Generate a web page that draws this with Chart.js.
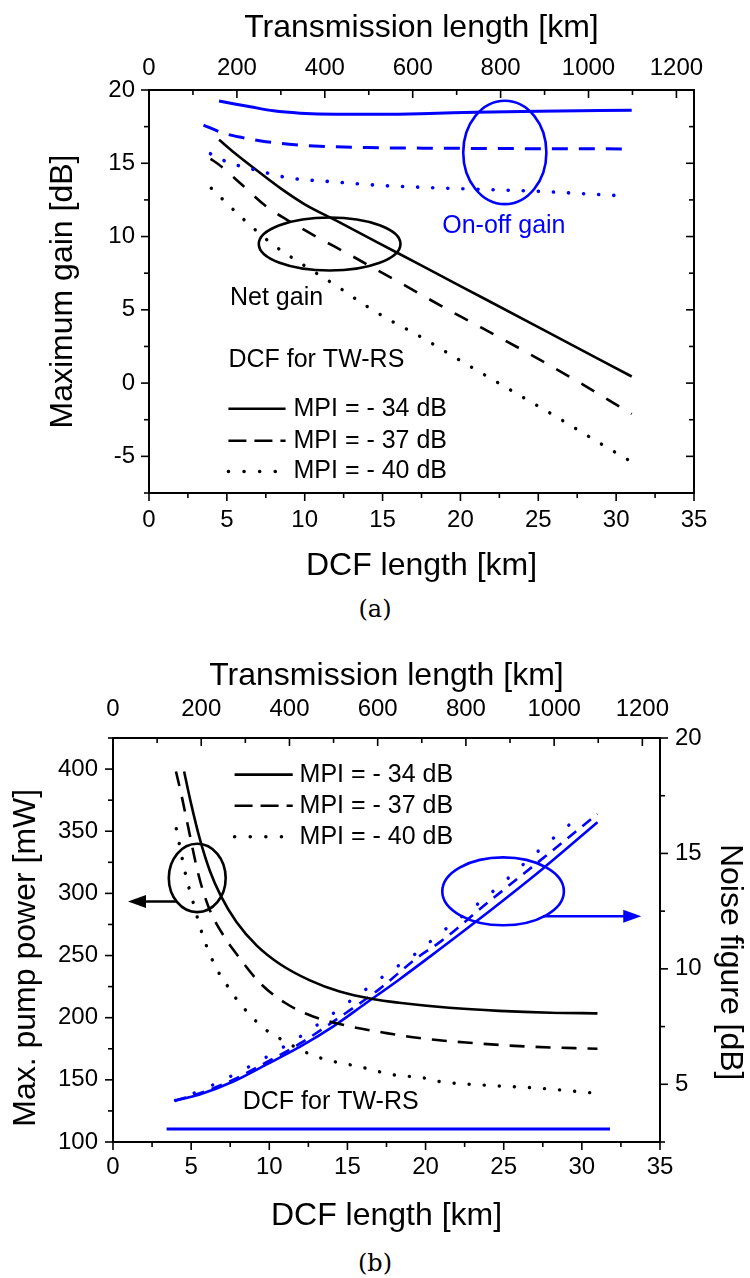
<!DOCTYPE html>
<html>
<head>
<meta charset="utf-8">
<script src="https://cdn.jsdelivr.net/npm/chart.js@4.4.0/dist/chart.umd.min.js"></script>
<style>
  body { margin: 0; background: #fff; width: 750px; height: 1278px; position: relative; overflow: hidden; }
  canvas { position: absolute; left: 0; }
  #cA { top: 0; }
  #cB { top: 640px; }
  .cap { position: absolute; left: 0; width: 750px; text-align: center; font-family: 'DejaVu Serif', 'Liberation Serif', serif; font-size: 24px; line-height: 26px; }
</style>
</head>
<body>
<canvas id="cA" width="750" height="590"></canvas>
<div class="cap" style="top:596px">(a)</div>
<canvas id="cB" width="750" height="600"></canvas>
<div class="cap" style="top:1250px">(b)</div>
<script>
// ---- axis tick labels ----
const dcfMajor = [0, 5, 10, 15, 20, 25, 30, 35];
const transMajor = [0, 200, 400, 600, 800, 1000, 1200];
const gainMajor = [-5, 0, 5, 10, 15, 20];
const pumpMajor = [100, 150, 200, 250, 300, 350, 400];
const nfMajor = [5, 10, 15, 20];

// ---- (a) maximum gain vs DCF length ----
const onOff34X = [4.5, 5.5, 6.5, 8, 9.7, 12, 15, 18, 21, 25, 31];
const onOff34Y = [19.25, 19.05, 18.86, 18.58, 18.42, 18.35, 18.35, 18.4, 18.48, 18.55, 18.62];
const onOff37X = [3.5, 4.8, 6, 7.2, 9, 10.6, 14, 18, 24, 31];
const onOff37Y = [17.6, 17.05, 16.75, 16.52, 16.3, 16.18, 16.07, 16.03, 16.0, 15.98];
const onOff40X = [3.95, 5, 7, 8.9, 11.9, 15, 18, 20.4, 24.7, 30];
const onOff40Y = [15.65, 15.1, 14.5, 14.02, 13.73, 13.48, 13.34, 13.25, 13.1, 12.8];
const net34X = [4.5, 5.5, 7, 8.5, 10, 12, 16, 20, 25, 31];
const net34Y = [16.6, 15.7, 14.45, 13.25, 12.2, 11.1, 8.86, 6.62, 3.82, 0.45];
const net37X = [3.95, 4.5, 5.9, 7.6, 9.3, 11, 12.7, 14.5, 16, 17.7, 20, 22.8, 25, 27.7, 31];
const net37Y = [15.3, 14.9, 13.6, 12.0, 10.87, 9.84, 8.87, 7.8, 6.92, 5.9, 4.55, 2.95, 1.65, 0.0, -2.1];
const net40X = [4, 6, 7.9, 9.9, 12.1, 14, 16, 17, 20, 23, 26, 29, 31];
const net40Y = [13.3, 11.25, 9.5, 8.07, 6.59, 5.23, 3.98, 3.43, 1.53, -0.34, -2.2, -4.13, -5.38];

// ---- (b) pump power and noise figure vs DCF length ----
const pump34X = [4.55, 5, 5.55, 6.2, 6.9, 7.9, 9.2, 10.7, 12.6, 14.5, 16.6, 18.3, 21.5, 24.7, 28, 31];
const pump34Y = [398, 372, 344, 318, 298, 277, 258, 243, 230, 221, 215, 212, 208, 205.5, 204, 203.5];
const pump37X = [4.03, 4.4, 4.8, 5.45, 6.1, 7.05, 8.1, 9.4, 11, 12.8, 14.7, 17.5, 19.6, 22.6, 26.5, 31];
const pump37Y = [398, 378, 354, 316, 289.5, 266.5, 248, 228, 212, 201, 194.3, 187.6, 183.6, 180, 176.8, 175];
const pump40X = [4.05, 4.65, 5.2, 5.8, 6.6, 7.2, 7.9, 8.75, 9.7, 10.8, 12.7, 14.1, 15.7, 17.9, 19.9, 20.7, 23.8, 26.9, 30.7];
const pump40Y = [352, 315, 289.5, 264, 240, 228, 215, 202.4, 191, 182.3, 170.2, 164.8, 160.8, 154.1, 151.5, 149, 145.7, 143.6, 139.5];
const nf34X = [4, 5.5, 7.7, 9.8, 12, 14.1, 16.2, 18.3, 20.3, 23.25, 27.5, 31];
const nf34Y = [4.3, 4.55, 5.12, 5.85, 6.64, 7.51, 8.52, 9.53, 10.54, 12.06, 14.34, 16.35];
const nf37X = [4, 5.5, 7.7, 9.8, 12, 14.9, 17, 19.4, 21, 24, 27.8, 31];
const nf37Y = [4.3, 4.6, 5.2, 5.95, 6.78, 8.09, 9.1, 10.45, 11.2, 12.88, 14.95, 16.71];
const nf40X = [4, 6.1, 9.05, 12.05, 15, 17.9, 19.1, 21.05, 23.1, 25.1, 27, 29, 30.05];
const nf40Y = [4.3, 4.88, 5.89, 7.1, 8.52, 9.97, 10.52, 11.6, 12.68, 13.82, 14.98, 16.13, 16.71];
const limitX = [3.43, 31.8];
const limitY = [3.06, 3.06];

const BLUE = '#0000ff';
const FONT = "'Liberation Sans', Arial, Helvetica, sans-serif";
const DASH_A = [15, 14], DASH_AB = [16, 11], DASH_B = [15, 11], DASH_NF = [11, 8];
const DOT = [0.1, 15], DOT_NF = [0.1, 20], DASH_LEG = [18, 8];

function pts(xs, ys) { return xs.map((x, i) => ({ x: x, y: ys[i] })); }

function line(xs, ys, color, width, dash, yAxis) {
  return {
    data: pts(xs, ys), borderColor: color, borderWidth: width, borderDash: dash,
    borderCapStyle: dash.length && dash[0] < 1 ? 'round' : 'butt', borderJoinStyle: 'round',
    pointRadius: 0, fill: false, cubicInterpolationMode: 'monotone',
    xAxisID: 'x', yAxisID: yAxis || 'y'
  };
}

function axis(o) {
  const step = (o.majors[1] - o.majors[0]) / 2;
  return {
    type: 'linear', axis: o.axis, position: o.pos, min: o.min, max: o.max,
    afterBuildTicks: s => {
      const t = [];
      for (let v = Math.ceil(o.min / step - 1e-9) * step; v <= o.max + 1e-9; v += step) {
        t.push({ value: Math.round(v * 1000) / 1000 });
      }
      s.ticks = t;
    },
    afterFit: s => {
      if (o.pos === 'left' || o.pos === 'right') s.width = o.size; else s.height = o.size;
    },
    ticks: {
      display: o.labels !== false, padding: o.pad || 0, color: '#000', autoSkip: false,
      maxRotation: 0, minRotation: 0,
      font: { family: FONT, size: 24, lineHeight: 1 },
      callback: v => o.majors.includes(v) ? String(v) : ''
    },
    grid: { display: false, drawTicks: false },
    border: { display: true, color: '#000', width: 2 },
    title: o.title ? {
      display: true, text: o.title, color: '#000',
      font: { family: FONT, size: 32, lineHeight: 1 }, padding: o.tpad
    } : { display: false }
  };
}

// tick marks (major/minor, inward or outward) drawn from the scales' own ticks
function tickPlugin(dirs) {
  return {
    id: 'tickMarks',
    afterDraw(chart) {
      const ctx = chart.ctx, a = chart.chartArea;
      ctx.save();
      ctx.strokeStyle = '#000';
      ctx.lineWidth = 1.6;
      Object.keys(dirs).forEach(id => {
        const s = chart.scales[id];
        const sign = dirs[id] === 'in' ? -1 : 1;
        s.ticks.forEach(t => {
          const len = (t.label !== '' ? 8 : 5) * sign;
          const p = s.getPixelForValue(t.value);
          ctx.beginPath();
          if (s.position === 'left') { ctx.moveTo(a.left, p); ctx.lineTo(a.left - len, p); }
          else if (s.position === 'right') { ctx.moveTo(a.right, p); ctx.lineTo(a.right + len, p); }
          else if (s.position === 'top') { ctx.moveTo(p, a.top); ctx.lineTo(p, a.top - len); }
          else { ctx.moveTo(p, a.bottom); ctx.lineTo(p, a.bottom + len); }
          ctx.stroke();
        });
      });
      ctx.restore();
    }
  };
}

// ellipses, arrows, labels and the line-style key, placed in data coordinates
function notesPlugin(spec) {
  return {
    id: 'notes',
    afterDraw(chart) {
      const ctx = chart.ctx, xs = chart.scales.x;
      ctx.save();
      ctx.setLineDash([]);
      (spec.ellipses || []).forEach(e => {
        const ys = chart.scales[e.axis];
        const cx = xs.getPixelForValue(e.x), cy = ys.getPixelForValue(e.y);
        const rx = Math.abs(xs.getPixelForValue(e.x + e.rx) - cx);
        const ry = Math.abs(ys.getPixelForValue(e.y + e.ry) - cy);
        ctx.beginPath();
        ctx.ellipse(cx, cy, rx, ry, 0, 0, Math.PI * 2);
        ctx.strokeStyle = e.color; ctx.lineWidth = 2.6;
        ctx.stroke();
      });
      (spec.arrows || []).forEach(r => {
        const ys = chart.scales[r.axis];
        const x1 = xs.getPixelForValue(r.x1), x2 = xs.getPixelForValue(r.x2), y = ys.getPixelForValue(r.y);
        const d = Math.sign(x2 - x1);
        ctx.strokeStyle = r.color; ctx.fillStyle = r.color; ctx.lineWidth = 2.6;
        ctx.beginPath(); ctx.moveTo(x1, y); ctx.lineTo(x2 - d * 14, y); ctx.stroke();
        ctx.beginPath(); ctx.moveTo(x2, y); ctx.lineTo(x2 - d * 18, y - 6.5); ctx.lineTo(x2 - d * 18, y + 6.5);
        ctx.closePath(); ctx.fill();
      });
      ctx.font = '25px ' + FONT;
      ctx.textBaseline = 'middle';
      (spec.texts || []).forEach(t => {
        const ys = chart.scales[t.axis];
        ctx.fillStyle = t.color; ctx.textAlign = t.align;
        ctx.fillText(t.text, xs.getPixelForValue(t.x), ys.getPixelForValue(t.y));
      });
      const k = spec.key;
      if (k) {
        const ys = chart.scales[k.axis];
        k.rows.forEach(r => {
          const y = ys.getPixelForValue(r.y);
          ctx.strokeStyle = '#000'; ctx.lineWidth = r.dot ? 3.5 : 2.6;
          ctx.lineCap = r.dot ? 'round' : 'butt';
          ctx.setLineDash(r.dash);
          ctx.beginPath(); ctx.moveTo(xs.getPixelForValue(k.x1), y); ctx.lineTo(xs.getPixelForValue(k.x2), y); ctx.stroke();
          ctx.setLineDash([]);
          ctx.fillStyle = '#000'; ctx.textAlign = 'left';
          ctx.fillText(r.label, xs.getPixelForValue(k.xText), y);
        });
      }
      ctx.restore();
    }
  };
}

// ---------------- (a) ----------------
new Chart(document.getElementById('cA'), {
  type: 'line',
  data: {
    datasets: [
      line(onOff34X, onOff34Y, BLUE, 3, []),
      line(onOff37X, onOff37Y, BLUE, 3, DASH_AB),
      line(onOff40X, onOff40Y, BLUE, 3.6, DOT),
      line(net34X, net34Y, '#000', 2.6, []),
      line(net37X, net37Y, '#000', 2.6, DASH_A),
      line(net40X, net40Y, '#000', 3.4, DOT)
    ]
  },
  options: {
    responsive: false, animation: false, devicePixelRatio: 1,
    layout: { padding: 0 },
    plugins: { legend: { display: false }, tooltip: { enabled: false } },
    scales: {
      x: axis({ axis: 'x', pos: 'bottom', min: 0, max: 35, majors: dcfMajor, size: 97, pad: 15,
                title: 'DCF length [km]', tpad: { top: 0, bottom: 8 } }),
      x2: axis({ axis: 'x', pos: 'top', min: 0, max: 1240, majors: transMajor, size: 90, pad: 9.5,
                 title: 'Transmission length [km]', tpad: { top: 12, bottom: 0 } }),
      y: axis({ axis: 'y', pos: 'left', min: -7.5, max: 20, majors: gainMajor, size: 149, pad: 14,
                title: 'Maximum gain [dB]', tpad: { top: 47, bottom: 0 } }),
      y2: axis({ axis: 'y', pos: 'right', min: -7.5, max: 20, majors: gainMajor, size: 56, labels: false })
    }
  },
  plugins: [
    tickPlugin({ x: 'out', y: 'out', x2: 'in', y2: 'in' }),
    notesPlugin({
      ellipses: [
        { x: 11.6, y: 9.49, rx: 4.55, ry: 1.81, axis: 'y', color: '#000' },
        { x: 22.85, y: 15.74, rx: 2.67, ry: 3.53, axis: 'y', color: BLUE }
      ],
      texts: [
        { x: 22.79, y: 10.73, axis: 'y', text: 'On-off gain', color: BLUE, align: 'center' },
        { x: 8.19, y: 5.79, axis: 'y', text: 'Net gain', color: '#000', align: 'center' },
        { x: 5.1, y: 1.6, axis: 'y', text: 'DCF for TW-RS', color: '#000', align: 'left' }
      ],
      key: {
        axis: 'y', x1: 5.1, x2: 8.77, xText: 9.28,
        rows: [
          { y: -1.75, dash: [], label: 'MPI = - 34 dB' },
          { y: -3.93, dash: DASH_LEG, label: 'MPI = - 37 dB' },
          { y: -6.04, dash: [0.1, 15.5], dot: true, label: 'MPI = - 40 dB' }
        ]
      }
    })
  ]
});

// ---------------- (b) ----------------
new Chart(document.getElementById('cB'), {
  type: 'line',
  data: {
    datasets: [
      line(pump34X, pump34Y, '#000', 2.6, []),
      line(pump37X, pump37Y, '#000', 2.6, DASH_B),
      line(pump40X, pump40Y, '#000', 3.4, DOT),
      line(nf34X, nf34Y, BLUE, 2.6, [], 'y2'),
      line(nf37X, nf37Y, BLUE, 2.6, DASH_NF, 'y2'),
      line(nf40X, nf40Y, BLUE, 3.4, DOT_NF, 'y2'),
      line(limitX, limitY, BLUE, 3, [], 'y2')
    ]
  },
  options: {
    responsive: false, animation: false, devicePixelRatio: 1,
    layout: { padding: 0 },
    plugins: { legend: { display: false }, tooltip: { enabled: false } },
    scales: {
      x: axis({ axis: 'x', pos: 'bottom', min: 0, max: 35, majors: dcfMajor, size: 98, pad: 13,
                title: 'DCF length [km]', tpad: { top: 0, bottom: 8 } }),
      x2: axis({ axis: 'x', pos: 'top', min: 0, max: 1240, majors: transMajor, size: 98, pad: 17,
                 title: 'Transmission length [km]', tpad: { top: 20, bottom: 0 } }),
      y: axis({ axis: 'y', pos: 'left', min: 100, max: 425, majors: pumpMajor, size: 113, pad: 15,
                title: 'Max. pump power [mW]    ', tpad: { top: 10, bottom: 0 } }),
      y2: axis({ axis: 'y', pos: 'right', min: 2.5, max: 20, majors: nfMajor, size: 90, pad: 15,
                 title: '     Noise figure [dB]', tpad: { top: 4, bottom: 0 } })
    }
  },
  plugins: [
    tickPlugin({ x: 'out', y: 'out', x2: 'in', y2: 'out' }),
    notesPlugin({
      ellipses: [
        { x: 5.39, y: 312.4, rx: 1.82, ry: 27.5, axis: 'y', color: '#000' },
        { x: 24.96, y: 13.36, rx: 3.89, ry: 1.47, axis: 'y2', color: BLUE }
      ],
      arrows: [
        { x1: 4.06, x2: 0.96, y: 293.5, axis: 'y', color: '#000' },
        { x1: 27.51, x2: 33.8, y: 12.28, axis: 'y2', color: BLUE }
      ],
      texts: [
        { x: 8.3, y: 4.24, axis: 'y2', text: 'DCF for TW-RS', color: '#000', align: 'left' }
      ],
      key: {
        axis: 'y', x1: 7.78, x2: 11.5, xText: 11.94,
        rows: [
          { y: 395.5, dash: [], label: 'MPI = - 34 dB' },
          { y: 370.5, dash: DASH_LEG, label: 'MPI = - 37 dB' },
          { y: 345.5, dash: [0.1, 15.5], dot: true, label: 'MPI = - 40 dB' }
        ]
      }
    })
  ]
});
</script>
</body>
</html>
